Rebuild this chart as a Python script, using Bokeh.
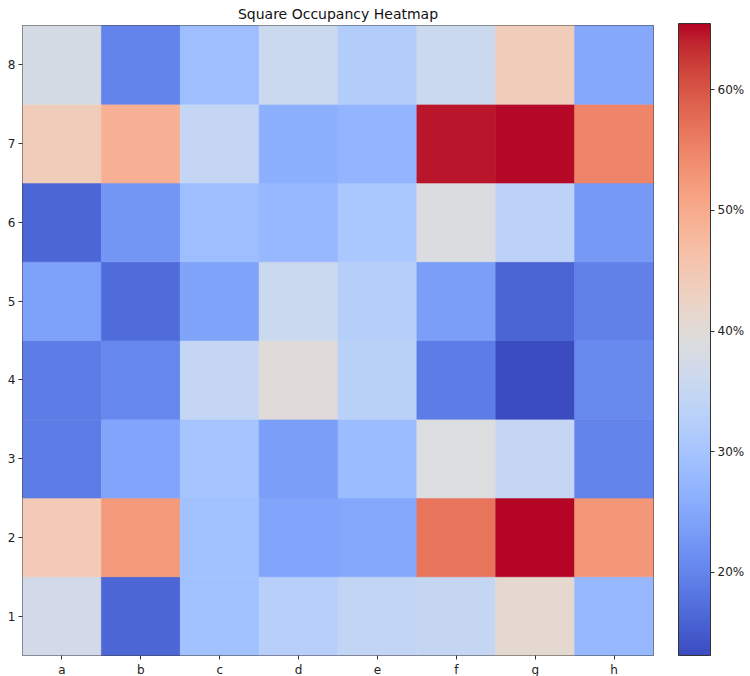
from bokeh.plotting import figure
from bokeh.models import ColumnDataSource, LinearColorMapper, ColorBar, FixedTicker, PrintfTickFormatter
from bokeh.transform import transform
from bokeh.embed import file_html
from bokeh.resources import INLINE

files = ["a", "b", "c", "d", "e", "f", "g", "h"]
ranks = ["1", "2", "3", "4", "5", "6", "7", "8"]

# occupancy (%) per rank, files a..h
rank_1 = [37.2, 16.2, 29.3, 32.8, 34.4, 35.0, 41.1, 27.8]
rank_2 = [44.5, 52.2, 29.4, 24.6, 24.8, 56.9, 65.5, 52.7]
rank_3 = [19.0, 24.6, 30.0, 23.6, 28.3, 39.0, 34.6, 20.0]
rank_4 = [19.0, 20.4, 34.6, 39.8, 33.0, 19.0, 13.1, 20.7]
rank_5 = [24.0, 16.8, 24.4, 36.0, 32.5, 23.6, 16.0, 19.6]
rank_6 = [16.2, 22.5, 28.8, 27.8, 30.5, 38.8, 33.5, 22.8]
rank_7 = [44.0, 49.3, 34.6, 26.2, 27.2, 64.5, 65.2, 55.0]
rank_8 = [37.7, 20.0, 28.8, 36.0, 32.0, 36.0, 44.0, 25.0]

colorbar_ticks = [20, 30, 40, 50, 60]

rows = [rank_1, rank_2, rank_3, rank_4, rank_5, rank_6, rank_7, rank_8]
xs, ys, vs = [], [], []
for r, row in zip(ranks, rows):
    for f, v in zip(files, row):
        xs.append(f)
        ys.append(r)
        vs.append(v)
source = ColumnDataSource(dict(file=xs, rank=ys, val=vs))

# coolwarm colormap anchors
anchors = [
    (59, 76, 192), (68, 90, 204), (77, 104, 215), (87, 117, 225), (98, 130, 234),
    (108, 142, 241), (119, 154, 247), (130, 165, 251), (141, 176, 254), (152, 185, 255),
    (163, 194, 255), (174, 201, 253), (184, 208, 249), (194, 213, 244), (204, 217, 238),
    (213, 219, 230), (221, 221, 221), (229, 216, 209), (236, 211, 197), (241, 204, 185),
    (245, 196, 173), (247, 187, 160), (247, 177, 148), (247, 166, 135), (244, 154, 123),
    (241, 141, 111), (236, 127, 99), (229, 112, 88), (222, 96, 77), (213, 80, 66),
    (203, 62, 56), (192, 40, 47), (180, 4, 38),
]
palette = []
n = 256
for i in range(n):
    t = i / (n - 1) * (len(anchors) - 1)
    k = min(int(t), len(anchors) - 2)
    u = t - k
    c0, c1 = anchors[k], anchors[k + 1]
    c = [round(c0[j] + (c1[j] - c0[j]) * u) for j in range(3)]
    palette.append("#%02x%02x%02x" % tuple(c))

mapper = LinearColorMapper(palette=palette, low=min(vs), high=max(vs))

FW, FH = 631, 630
p = figure(x_range=files, y_range=ranks, frame_width=FW, frame_height=FH,
           output_backend="svg", toolbar_location=None,
           title="Square Occupancy Heatmap",
           min_border_left=22, min_border_top=0, min_border_right=91, min_border_bottom=0)

p.rect(x="file", y="rank", width=1, height=1, source=source,
       fill_color=transform("val", mapper), line_color=transform("val", mapper), line_width=0.6)

p.title.align = "center"
p.title.text_font = "DejaVu Sans"
p.title.text_font_size = "14px"
p.title.text_font_style = "normal"
p.title.text_color = "#111111"
p.title.standoff = 7

p.grid.visible = False
p.outline_line_color = "#444444"
p.outline_line_width = 1
for ax in (p.xaxis, p.yaxis):
    ax.axis_line_color = None
    ax.major_tick_line_color = "#333333"
    ax.major_tick_out = 4
    ax.major_tick_in = 0
    ax.minor_tick_line_color = None
    ax.major_label_text_font = "DejaVu Sans"
    ax.major_label_text_font_size = "12px"
    ax.major_label_text_color = "#222222"
    ax.major_label_standoff = 3

p.x_range.range_padding = 0
p.y_range.range_padding = 0

cb = ColorBar(color_mapper=mapper, width=32, height=FH + 2, padding=0, margin=0,
              location=(FW + 25, 0),
              ticker=FixedTicker(ticks=colorbar_ticks),
              formatter=PrintfTickFormatter(format="%d%%"),
              major_tick_in=0, major_tick_out=4, major_tick_line_color="#333333",
              minor_tick_line_color=None,
              bar_line_color="#333333", bar_line_width=1,
              major_label_text_font="DejaVu Sans", major_label_text_font_size="12px",
              major_label_text_color="#222222", label_standoff=3,
              background_fill_alpha=0, border_line_color=None)
p.add_layout(cb, "center")

open("out.html", "w").write(file_html(p, INLINE))
